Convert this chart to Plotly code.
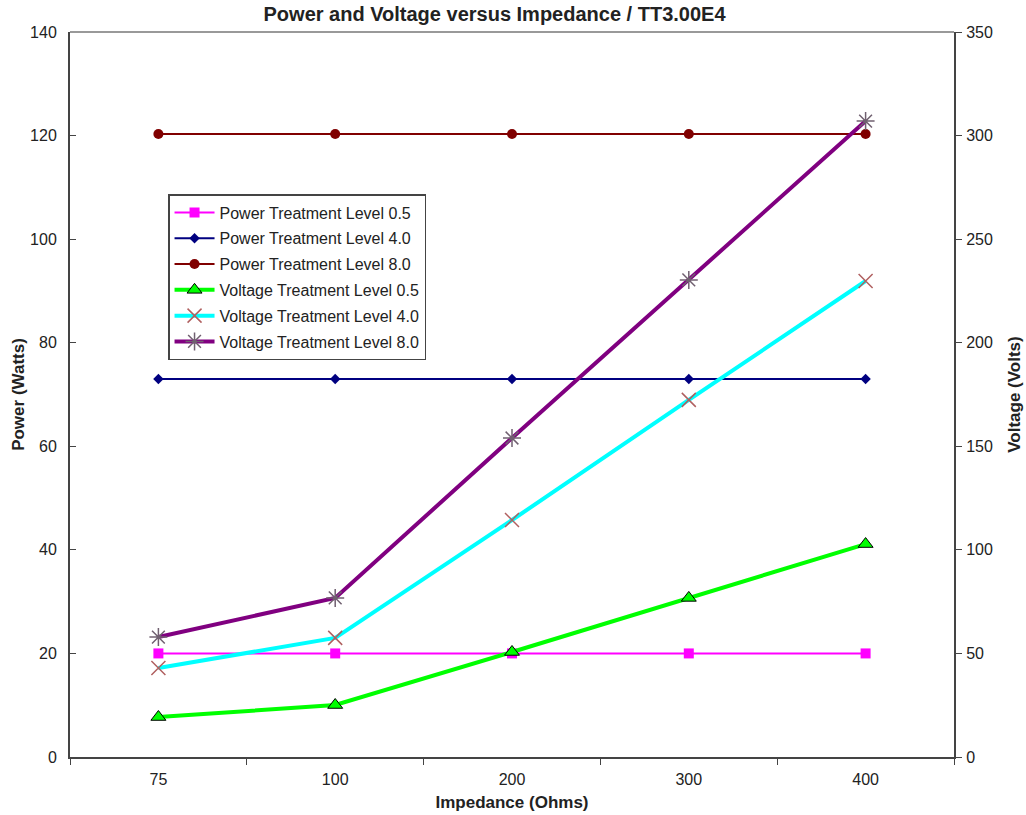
import plotly.graph_objects as go

impedance = ["75", "100", "200", "300", "400"]
power_05 = [20, 20, 20, 20, 20]
power_40 = [73, 73, 73, 73, 73]
power_80 = [120.3, 120.3, 120.3, 120.3, 120.3]
volt_05 = [19.3, 25.1, 50.7, 76.8, 102.8]
volt_40 = [43, 57.5, 114.4, 172.4, 229.8]
volt_80 = [57.9, 76.8, 154, 230.3, 307]

fig = go.Figure()
fig.add_trace(go.Scatter(x=impedance, y=power_05, name="Power Treatment Level 0.5",
    legendgroup="a", mode="lines+markers", line=dict(color="#FF00FF", width=2),
    marker=dict(symbol="square", size=10, color="#FF00FF")))
fig.add_trace(go.Scatter(x=impedance, y=power_40, name="Power Treatment Level 4.0",
    legendgroup="b", mode="lines+markers", line=dict(color="#000080", width=2),
    marker=dict(symbol="diamond", size=8, color="#000080")))
fig.add_trace(go.Scatter(x=impedance, y=power_80, name="Power Treatment Level 8.0",
    legendgroup="c", mode="lines+markers", line=dict(color="#800000", width=2),
    marker=dict(symbol="circle", size=10, color="#800000")))
fig.add_trace(go.Scatter(x=impedance, y=volt_05, name="Voltage Treatment Level 0.5",
    legendgroup="d", mode="lines+markers", line=dict(color="#00FF00", width=4), yaxis="y2",
    marker=dict(symbol="triangle-up", size=13, color="#00FF00",
                line=dict(color="black", width=1))))
fig.add_trace(go.Scatter(x=impedance, y=volt_40, name="Voltage Treatment Level 4.0",
    legendgroup="e", mode="lines+markers", line=dict(color="#00FFFF", width=4), yaxis="y2",
    marker=dict(symbol="x-thin-open", size=14, color="#B06060",
                line=dict(color="#A06666", width=1.5))))
fig.add_trace(go.Scatter(x=impedance, y=volt_80, name="Voltage Treatment Level 8.0",
    legendgroup="f", mode="lines+markers", line=dict(color="#800080", width=4), yaxis="y2",
    marker=dict(symbol="asterisk-open", size=15, color="#706070",
                line=dict(color="#705070", width=1.5))))

fig.update_layout(
    width=1026, height=815,
    margin=dict(l=70, r=72, t=32, b=58, autoexpand=False),
    paper_bgcolor="white", plot_bgcolor="white",
    font=dict(family="Liberation Sans, Arial, sans-serif", size=16, color="#222"),
    title=dict(text="<b>Power and Voltage versus Impedance / TT3.00E4</b>",
               x=0.482, xanchor="center", y=0.983, yanchor="middle",
               font=dict(size=20, color="#222")),
    showlegend=True,
    legend=dict(x=0.1109, y=0.7765, xanchor="left", yanchor="top",
                bgcolor="white", bordercolor="#444", borderwidth=1.5,
                font=dict(size=16, color="#222"), tracegroupgap=2,
                itemwidth=40),
    xaxis=dict(type="category", automargin=False, range=[-0.5, 4.5],
               title=dict(text="<b>Impedance (Ohms)</b>", standoff=9, font=dict(size=17)),
               showgrid=False, showline=True, linecolor="#444", linewidth=2,
               ticks="outside", tickson="boundaries", ticklen=6, tickcolor="#444",
               ticklabelstandoff=7, zeroline=False),
    yaxis=dict(automargin=False,
               title=dict(text="<b>Power (Watts)</b>", standoff=1, font=dict(size=17)),
               range=[0, 140], dtick=20, showgrid=False, showline=True,
               linecolor="#444", linewidth=2, ticks="inside", ticklen=6,
               tickcolor="#444", ticklabelstandoff=8, zeroline=False),
    yaxis2=dict(automargin=False,
                title=dict(text="<b>Voltage (Volts)</b>", standoff=16, font=dict(size=17)),
                overlaying="y", side="right", range=[0, 350], dtick=50,
                showgrid=False, showline=True, linecolor="#444", linewidth=2,
                ticks="outside", ticklen=6, tickcolor="#444",
                ticklabelstandoff=1, zeroline=False),
    shapes=[dict(type="line", xref="paper", yref="paper", x0=0, x1=1, y0=1, y1=1,
                 line=dict(color="#999", width=2))],
)

fig.write_html("out.html", config={"displayModeBar": False},
               post_script="document.body.style.margin='0';document.body.style.overflow='hidden';")
